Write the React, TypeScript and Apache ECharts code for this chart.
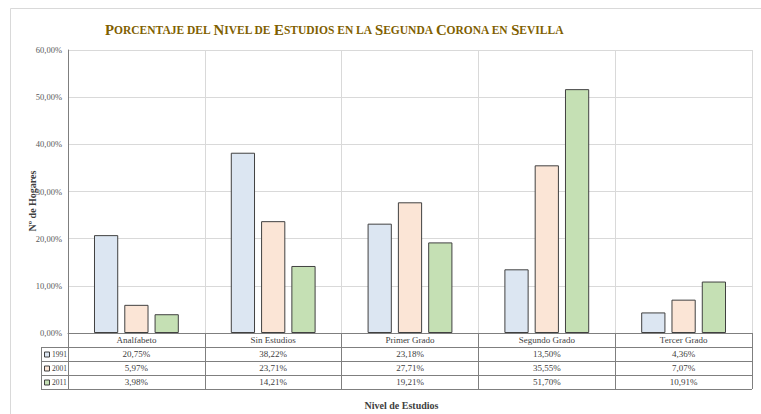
import React, { useEffect, useRef } from "react";
import * as echarts from "echarts";

const categories = ["Analfabeto", "Sin Estudios", "Primer Grado", "Segundo Grado", "Tercer Grado"];
const years = ["1991", "2001", "2011"];
const values1991 = [20.75, 38.22, 23.18, 13.5, 4.36];
const values2001 = [5.97, 23.71, 27.71, 35.55, 7.07];
const values2011 = [3.98, 14.21, 19.21, 51.7, 10.91];
const seriesValues = [values1991, values2001, values2011];
const colors = ["#dce6f2", "#fbe5d6", "#c5e0b4"];

const Y_MIN = 0;
const Y_MAX = 60;
const Y_INTERVAL = 10;

const W = 761;
const H = 414;
const GRID_LEFT = 68;
const GRID_TOP = 50;
const GRID_RIGHT = 9;
const GRID_BOTTOM = 81;
const ROW_H = 14;
const TABLE_LEFT = 41;

const SERIF = "Liberation Serif";
const fmt = (v: number) => v.toFixed(2).replace(".", ",") + "%";

export default function App() {
  const ref = useRef<HTMLDivElement>(null);
  useEffect(() => {
    if (!ref.current) return;
    const chart = echarts.init(ref.current, undefined, { renderer: "svg" });
    const axisY = H - GRID_BOTTOM;
    const gridRight = W - GRID_RIGHT;
    const tableBottom = axisY + ROW_H * (years.length + 1);

    const graphics: any[] = [];
    // outer chart border
    graphics.push({
      type: "rect",
      shape: { x: 10.5, y: 8.5, width: W, height: H },
      style: { fill: "none", stroke: "#d9d9d9", lineWidth: 1 },
      silent: true,
    });
    // table horizontal lines
    for (let r = 1; r <= years.length + 1; r++) {
      const y = axisY + r * ROW_H + 0.5;
      graphics.push({
        type: "line",
        shape: { x1: TABLE_LEFT, y1: y, x2: gridRight, y2: y },
        style: { stroke: "#7f7f7f", lineWidth: 1 },
        silent: true,
      });
    }
    // table left border
    graphics.push({
      type: "line",
      shape: { x1: TABLE_LEFT + 0.5, y1: axisY + ROW_H, x2: TABLE_LEFT + 0.5, y2: tableBottom + 0.5 },
      style: { stroke: "#7f7f7f", lineWidth: 1 },
      silent: true,
    });
    // row labels with legend keys
    years.forEach((yr, i) => {
      const cy = axisY + ROW_H * (i + 1) + ROW_H / 2 + 0.5;
      graphics.push({
        type: "rect",
        shape: { x: TABLE_LEFT + 3.5, y: cy - 2.5, width: 5, height: 5 },
        style: { fill: colors[i], stroke: "#404040", lineWidth: 1 },
        silent: true,
      });
      graphics.push({
        type: "text",
        x: TABLE_LEFT + 11,
        y: cy,
        style: {
          text: yr,
          fontFamily: SERIF,
          fontSize: 7.5,
          fill: "#404040",
          align: "left",
          verticalAlign: "middle",
        },
        silent: true,
      });
    });
    // y axis title
    graphics.push({
      type: "text",
      x: 32,
      y: 201,
      rotation: Math.PI / 2,
      style: {
        text: "Nº de Hogares",
        fontFamily: SERIF,
        fontWeight: "bold",
        fontSize: 10,
        fill: "#404040",
        align: "center",
        verticalAlign: "middle",
      },
      silent: true,
    });

    const option: any = {
      animation: false,
      backgroundColor: "#ffffff",
      title: [
        {
          left: 100,
          top: 17,
          text:
            "{b|P}{s|ORCENTAJE DEL }{b|N}{s|IVEL DE }{b|E}{s|STUDIOS EN LA }{b|S}{s|EGUNDA }{b|C}{s|ORONA EN }{b|S}{s|EVILLA}",
          textStyle: {
            rich: {
              b: { fontFamily: SERIF, fontWeight: "bold", fontSize: 14.8, color: "#7f6000" },
              s: { fontFamily: SERIF, fontWeight: "bold", fontSize: 11.5, color: "#7f6000" },
            },
          },
        },
        {
          left: (TABLE_LEFT + gridRight) / 2,
          textAlign: "center",
          top: 395,
          text: "Nivel de Estudios",
          textStyle: { fontFamily: SERIF, fontWeight: "bold", fontSize: 10, color: "#404040" },
        },
      ],
      grid: { left: GRID_LEFT, top: GRID_TOP, right: GRID_RIGHT, bottom: GRID_BOTTOM, containLabel: false },
      xAxis: {
        type: "category",
        data: categories,
        boundaryGap: true,
        axisLine: { lineStyle: { color: "#7f7f7f" } },
        axisTick: { show: true, length: ROW_H * (years.length + 1), lineStyle: { color: "#7f7f7f" } },
        splitLine: { show: true, lineStyle: { color: "#d9d9d9" } },
        axisLabel: {
          margin: 0,
          interval: 0,
          formatter: (value: string, idx: number) => {
            const lines = ["{h|" + value + "}"];
            seriesValues.forEach((sv) => lines.push("{v|" + fmt(sv[idx]) + "}"));
            return lines.join("\n");
          },
          rich: {
            h: { fontFamily: SERIF, fontSize: 9, color: "#404040", lineHeight: ROW_H, height: ROW_H },
            v: { fontFamily: SERIF, fontSize: 9, color: "#404040", lineHeight: ROW_H, height: ROW_H },
          },
        },
      },
      yAxis: {
        type: "value",
        min: Y_MIN,
        max: Y_MAX,
        interval: Y_INTERVAL,
        axisLine: { show: true, lineStyle: { color: "#7f7f7f" } },
        axisTick: { show: false },
        splitLine: { show: true, lineStyle: { color: "#d9d9d9" } },
        axisLabel: {
          fontFamily: SERIF,
          fontSize: 8.5,
          color: "#595959",
          margin: 6,
          formatter: (v: number) => fmt(v),
        },
      },
      series: years.map((yr, i) => ({
        name: yr,
        type: "bar",
        data: seriesValues[i],
        barGap: "25%",
        barCategoryGap: "38%",
        itemStyle: { color: colors[i], borderColor: "#404040", borderWidth: 1 },
      })),
      graphic: graphics,
    };
    chart.setOption(option);
    return () => chart.dispose();
  }, []);
  return (
    <div
      ref={ref}
      style={{ position: "fixed", left: 0, top: 0, width: W, height: H, background: "#fff" }}
    />
  );
}
